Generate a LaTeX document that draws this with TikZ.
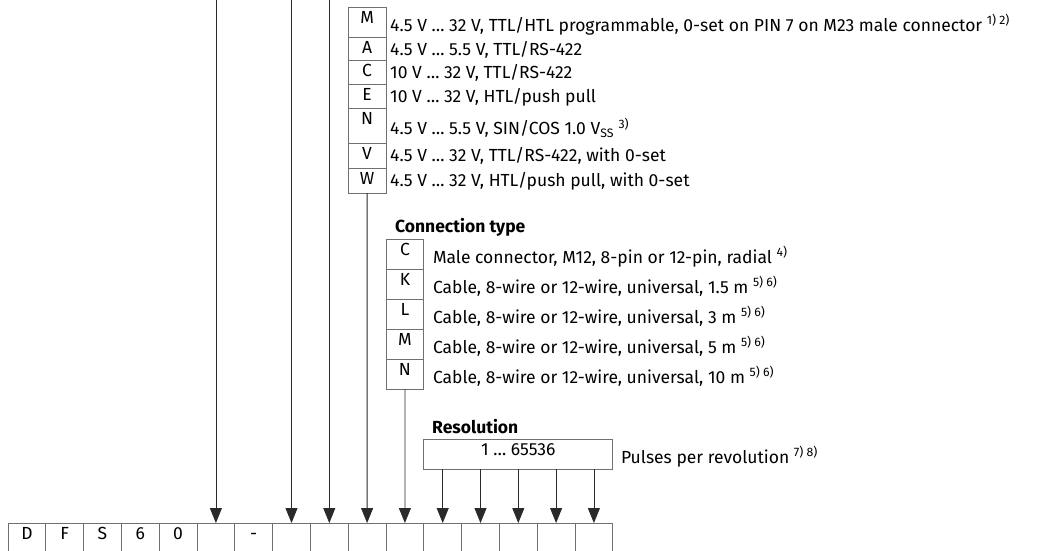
\documentclass[tikz,border=0pt]{standalone}
\usepackage{fontspec}
\setmainfont{Fira Sans}
\usetikzlibrary{arrows.meta,positioning,calc}
\definecolor{CodeGray}{HTML}{707070}
\definecolor{CodeLine}{HTML}{2A2A2A}
\newcommand{\fnref}[1]{ \textsuperscript{#1}}

\begin{document}
\begin{tikzpicture}[x=1pt,y=-1pt,
    every node/.style={font=\fontsize{17.5}{21}\selectfont},
    cell/.style={draw=CodeGray, line width=0.7pt, minimum width=37.8pt, inner sep=0pt, outer sep=0pt},
    rowcell/.style={cell, anchor=north, text height=16pt, text depth=15pt},
    optcell/.style={cell, anchor=north},
    key/.style={anchor=north, inner sep=4.5pt},
    desc/.style={anchor=west, inner sep=0pt, text height=12pt, text depth=0pt},
    head/.style={desc, font=\fontsize{17.5}{21}\selectfont\bfseries},
    arr/.style={draw=CodeLine, line width=0.8pt, -{Triangle[width=12pt,length=15pt]}}]
  \useasboundingbox (0,0) rectangle (1043,550);
  \clip (0,0) rectangle (1043,550);

  % type code
  \foreach \ch [count=\i] in {D,F,S,6,0,{},-,{},{},{},{},{},{},{},{},{}}
    \node[rowcell] (c\i) at ({8+(\i-0.5)*37.8},523) {\ch};

  % electrical interface
  \node[optcell, minimum height=30pt, label={[key]north:M}] (mM) at (367.1,7) {};
  \node[optcell, minimum height=23pt, label={[key]north:A}] (mA) at (367.1,37) {};
  \node[optcell, minimum height=24pt, label={[key]north:C}] (mC) at (367.1,60) {};
  \node[optcell, minimum height=24pt, label={[key]north:E}] (mE) at (367.1,84) {};
  \node[optcell, minimum height=35pt, label={[key]north:N}] (mN) at (367.1,108) {};
  \node[optcell, minimum height=25pt, label={[key]north:V}] (mV) at (367.1,143) {};
  \node[optcell, minimum height=25pt, label={[key]north:W}] (mW) at (367.1,168) {};

  \node[desc] (dM) at ($(mM.east)+(4,3)$) {4.5 V … 32 V, TTL/HTL programmable, 0-set on PIN 7 on M23 male connector\fnref{1) 2)}};
  \node[desc] (dA) at ($(mA.east)+(4,0.5)$) {4.5 V … 5.5 V, TTL/RS-422};
  \node[desc] (dC) at ($(mC.east)+(4,0.5)$) {10 V … 32 V, TTL/RS-422};
  \node[desc] (dE) at ($(mE.east)+(4,0.5)$) {10 V … 32 V, HTL/push pull};
  \node[desc] (dN) at ($(mN.east)+(4,3)$) {4.5 V … 5.5 V, SIN/COS 1.0 V\textsubscript{SS}\fnref{3)}};
  \node[desc] (dV) at ($(mV.east)+(4,0)$) {4.5 V … 32 V, TTL/RS-422, with 0-set};
  \node[desc] (dW) at ($(mW.east)+(4,0)$) {4.5 V … 32 V, HTL/push pull, with 0-set};

  % connection type
  \node[head] (hConn) at (395,226) {Connection type};
  \node[optcell, minimum height=30pt, label={[key]north:C}] (kC) at (404.9,239) {};
  \node[optcell, minimum height=30pt, label={[key]north:K}] (kK) at (404.9,269) {};
  \node[optcell, minimum height=30pt, label={[key]north:L}] (kL) at (404.9,299) {};
  \node[optcell, minimum height=30pt, label={[key]north:M}] (kM) at (404.9,329) {};
  \node[optcell, minimum height=30pt, label={[key]north:N}] (kN) at (404.9,359) {};

  \node[desc] (dkC) at ($(kC.east)+(9,3)$) {Male connector, M12, 8-pin or 12-pin, radial\fnref{4)}};
  \node[desc] (dkK) at ($(kK.east)+(9,3)$) {Cable, 8-wire or 12-wire, universal, 1.5 m\fnref{5) 6)}};
  \node[desc] (dkL) at ($(kL.east)+(9,3)$) {Cable, 8-wire or 12-wire, universal, 3 m\fnref{5) 6)}};
  \node[desc] (dkM) at ($(kM.east)+(9,3)$) {Cable, 8-wire or 12-wire, universal, 5 m\fnref{5) 6)}};
  \node[desc] (dkN) at ($(kN.east)+(9,3)$) {Cable, 8-wire or 12-wire, universal, 10 m\fnref{5) 6)}};

  % resolution
  \node[head] (hRes) at (432,427) {Resolution};
  \node[cell, anchor=north west, minimum width=189pt, minimum height=30pt,
        label={[key]north:1 … 65536}] (res) at (423.8,439) {};
  \node[desc] (dRes) at ($(res.east)+(8,3)$) {Pulses per revolution\fnref{7) 8)}};

  % arrows into the type code
  \foreach \i in {6,8,9} {
    \coordinate (t\i) at ($(c\i.north)+(0,-540)$);
    \draw[arr] (t\i) -- (c\i.north);
  }
  \draw[arr] (mW.south) -- (c10.north);
  \draw[arr] (kN.south) -- (c11.north);
  \foreach \i in {12,...,16}
    \draw[arr] (res.south -| c\i.north) -- (c\i.north);
\end{tikzpicture}
\end{document}
